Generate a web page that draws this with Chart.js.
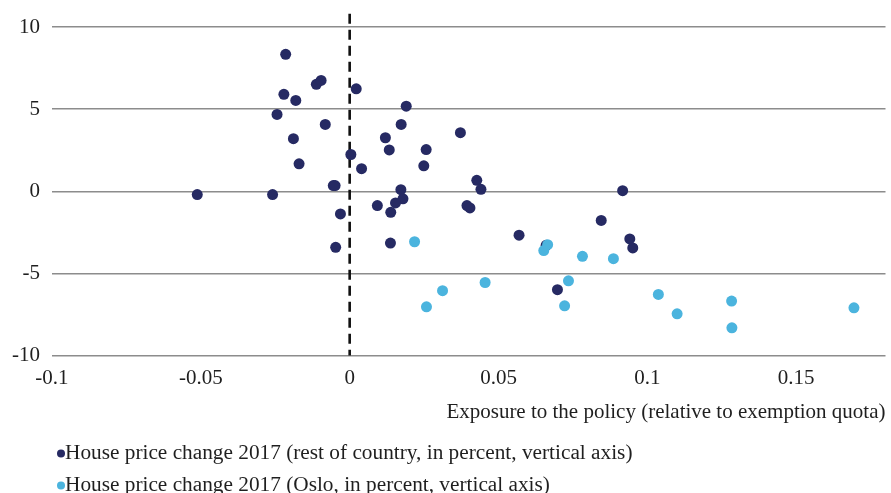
<!DOCTYPE html>
<html>
<head>
<meta charset="utf-8">
<script src="https://cdn.jsdelivr.net/npm/chart.js@4.4.0/dist/chart.umd.min.js"></script>
<style>
html, body { margin: 0; padding: 0; background: #fff; overflow: hidden; }
#wrap { position: relative; width: 891px; height: 493px; }
</style>
</head>
<body>
<div id="wrap"><canvas id="chart"></canvas></div>
<script>
// Rest of country: exposure to the policy (x) and house price change 2017 in percent (y)
const restX = [-0.0512, -0.0259, -0.0215, -0.0221, -0.0181, -0.0244, -0.0112, -0.0096, 0.0022, -0.0082,
               -0.0189, -0.0170, -0.0055, -0.0049, 0.0004, 0.0040, 0.0190, 0.0173, 0.0120, 0.0133,
               0.0257, 0.0249, 0.0172, 0.0179, 0.0154, 0.0093, 0.0138, -0.0031, -0.0047, 0.0137,
               0.0372, 0.0394, 0.0404, 0.0427, 0.0441, 0.0569, 0.0660, 0.0698, 0.0845, 0.0917,
               0.0941, 0.0951];
const restY = [-0.2, -0.2, 8.34, 5.9, 5.53, 4.68, 6.51, 6.75, 6.24, 4.07,
               3.2, 1.67, 0.35, 0.35, 2.24, 1.38, 5.18, 4.07, 3.26, 2.52,
               2.54, 1.55, 0.1, -0.46, -0.71, -0.87, -1.28, -1.38, -3.41, -3.15,
               3.57, -0.87, -1.01, 0.67, 0.12, -2.67, -3.29, -5.99, -1.77, 0.04,
               -2.9, -3.45];

// Oslo
const osloX = [0.0218, 0.0258, 0.0312, 0.0455, 0.0652, 0.0665, 0.0735, 0.0722, 0.0782, 0.0886,
               0.1037, 0.1100, 0.1283, 0.1284, 0.1694];
const osloY = [-3.07, -7.03, -6.05, -5.55, -3.61, -3.25, -5.45, -6.97, -3.96, -4.10,
               -6.28, -7.46, -6.68, -8.31, -7.09];

// dashed reference line at zero exposure (drawn from the top down)
const refX = [0, 0];
const refY = [10.8, -10];

const xTicks = [-0.1, -0.05, 0, 0.05, 0.1, 0.15];
const yTicks = [-10, -5, 0, 5, 10];

const legendLabels = [
    'House price change 2017 (rest of country, in percent, vertical axis)',
    'House price change 2017 (Oslo, in percent, vertical axis)'
];

const toPoints = (xs, ys) => xs.map((x, i) => ({ x: x, y: ys[i] }));

const textColor = '#1f1f1f';
const serif = "'Liberation Serif', 'Times New Roman', serif";
Chart.defaults.font.family = serif;
Chart.defaults.font.size = 21;
Chart.defaults.color = textColor;

// Legend as two stacked lines under the x axis title, small round markers
const stackedLegend = {
    id: 'stackedLegend',
    afterDraw(chart) {
        const c = chart.ctx;
        const top = chart.scales.x.bottom + 21.5;
        c.save();
        c.font = '21.3px ' + serif;
        c.textBaseline = 'middle';
        c.textAlign = 'left';
        chart.data.datasets.slice(0, 2).forEach((ds, i) => {
            const y = top + i * 32;
            c.fillStyle = ds.backgroundColor;
            c.beginPath();
            c.arc(61, y, 4, 0, Math.PI * 2);
            c.fill();
            c.fillStyle = textColor;
            c.fillText(ds.label, 65, y);
        });
        c.restore();
    }
};

const ctx = document.getElementById('chart').getContext('2d');
const chart = new Chart(ctx, {
    type: 'scatter',
    data: {
        datasets: [{
            label: legendLabels[0],
            data: toPoints(restX, restY),
            backgroundColor: '#262a63',
            borderWidth: 0,
            pointRadius: 5.5,
            pointHoverRadius: 5.5,
            order: 2
        }, {
            label: legendLabels[1],
            data: toPoints(osloX, osloY),
            backgroundColor: '#4bb4de',
            borderWidth: 0,
            pointRadius: 5.5,
            pointHoverRadius: 5.5,
            order: 1
        }, {
            type: 'line',
            label: 'ref',
            data: toPoints(refX, refY),
            borderColor: '#111111',
            borderWidth: 2.6,
            borderDash: [10, 6],
            pointRadius: 0,
            clip: false,
            order: 3
        }]
    },
    options: {
        responsive: true,
        maintainAspectRatio: false,
        animation: false,
        layout: {
            padding: { top: 27, left: 0, right: -3, bottom: 61 }
        },
        scales: {
            x: {
                type: 'linear',
                min: -0.1,
                max: 0.18,
                afterBuildTicks: (axis) => { axis.ticks = xTicks.map(v => ({ value: v })); },
                ticks: {
                    padding: 10.5,
                    callback: (v) => String(Math.round(v * 100) / 100)
                },
                grid: { display: false, drawTicks: false },
                border: { display: false },
                title: {
                    display: true,
                    text: 'Exposure to the policy (relative to exemption quota)',
                    align: 'end',
                    padding: { top: -2, bottom: 7 }
                }
            },
            y: {
                min: -10,
                max: 10,
                afterBuildTicks: (axis) => { axis.ticks = yTicks.map(v => ({ value: v })); },
                ticks: { padding: 12 },
                grid: { color: '#8c8c8c', lineWidth: 1.4, drawTicks: false },
                border: { display: false }
            }
        },
        plugins: {
            legend: { display: false },
            tooltip: { enabled: false }
        }
    },
    plugins: [stackedLegend]
});
</script>
</body>
</html>
